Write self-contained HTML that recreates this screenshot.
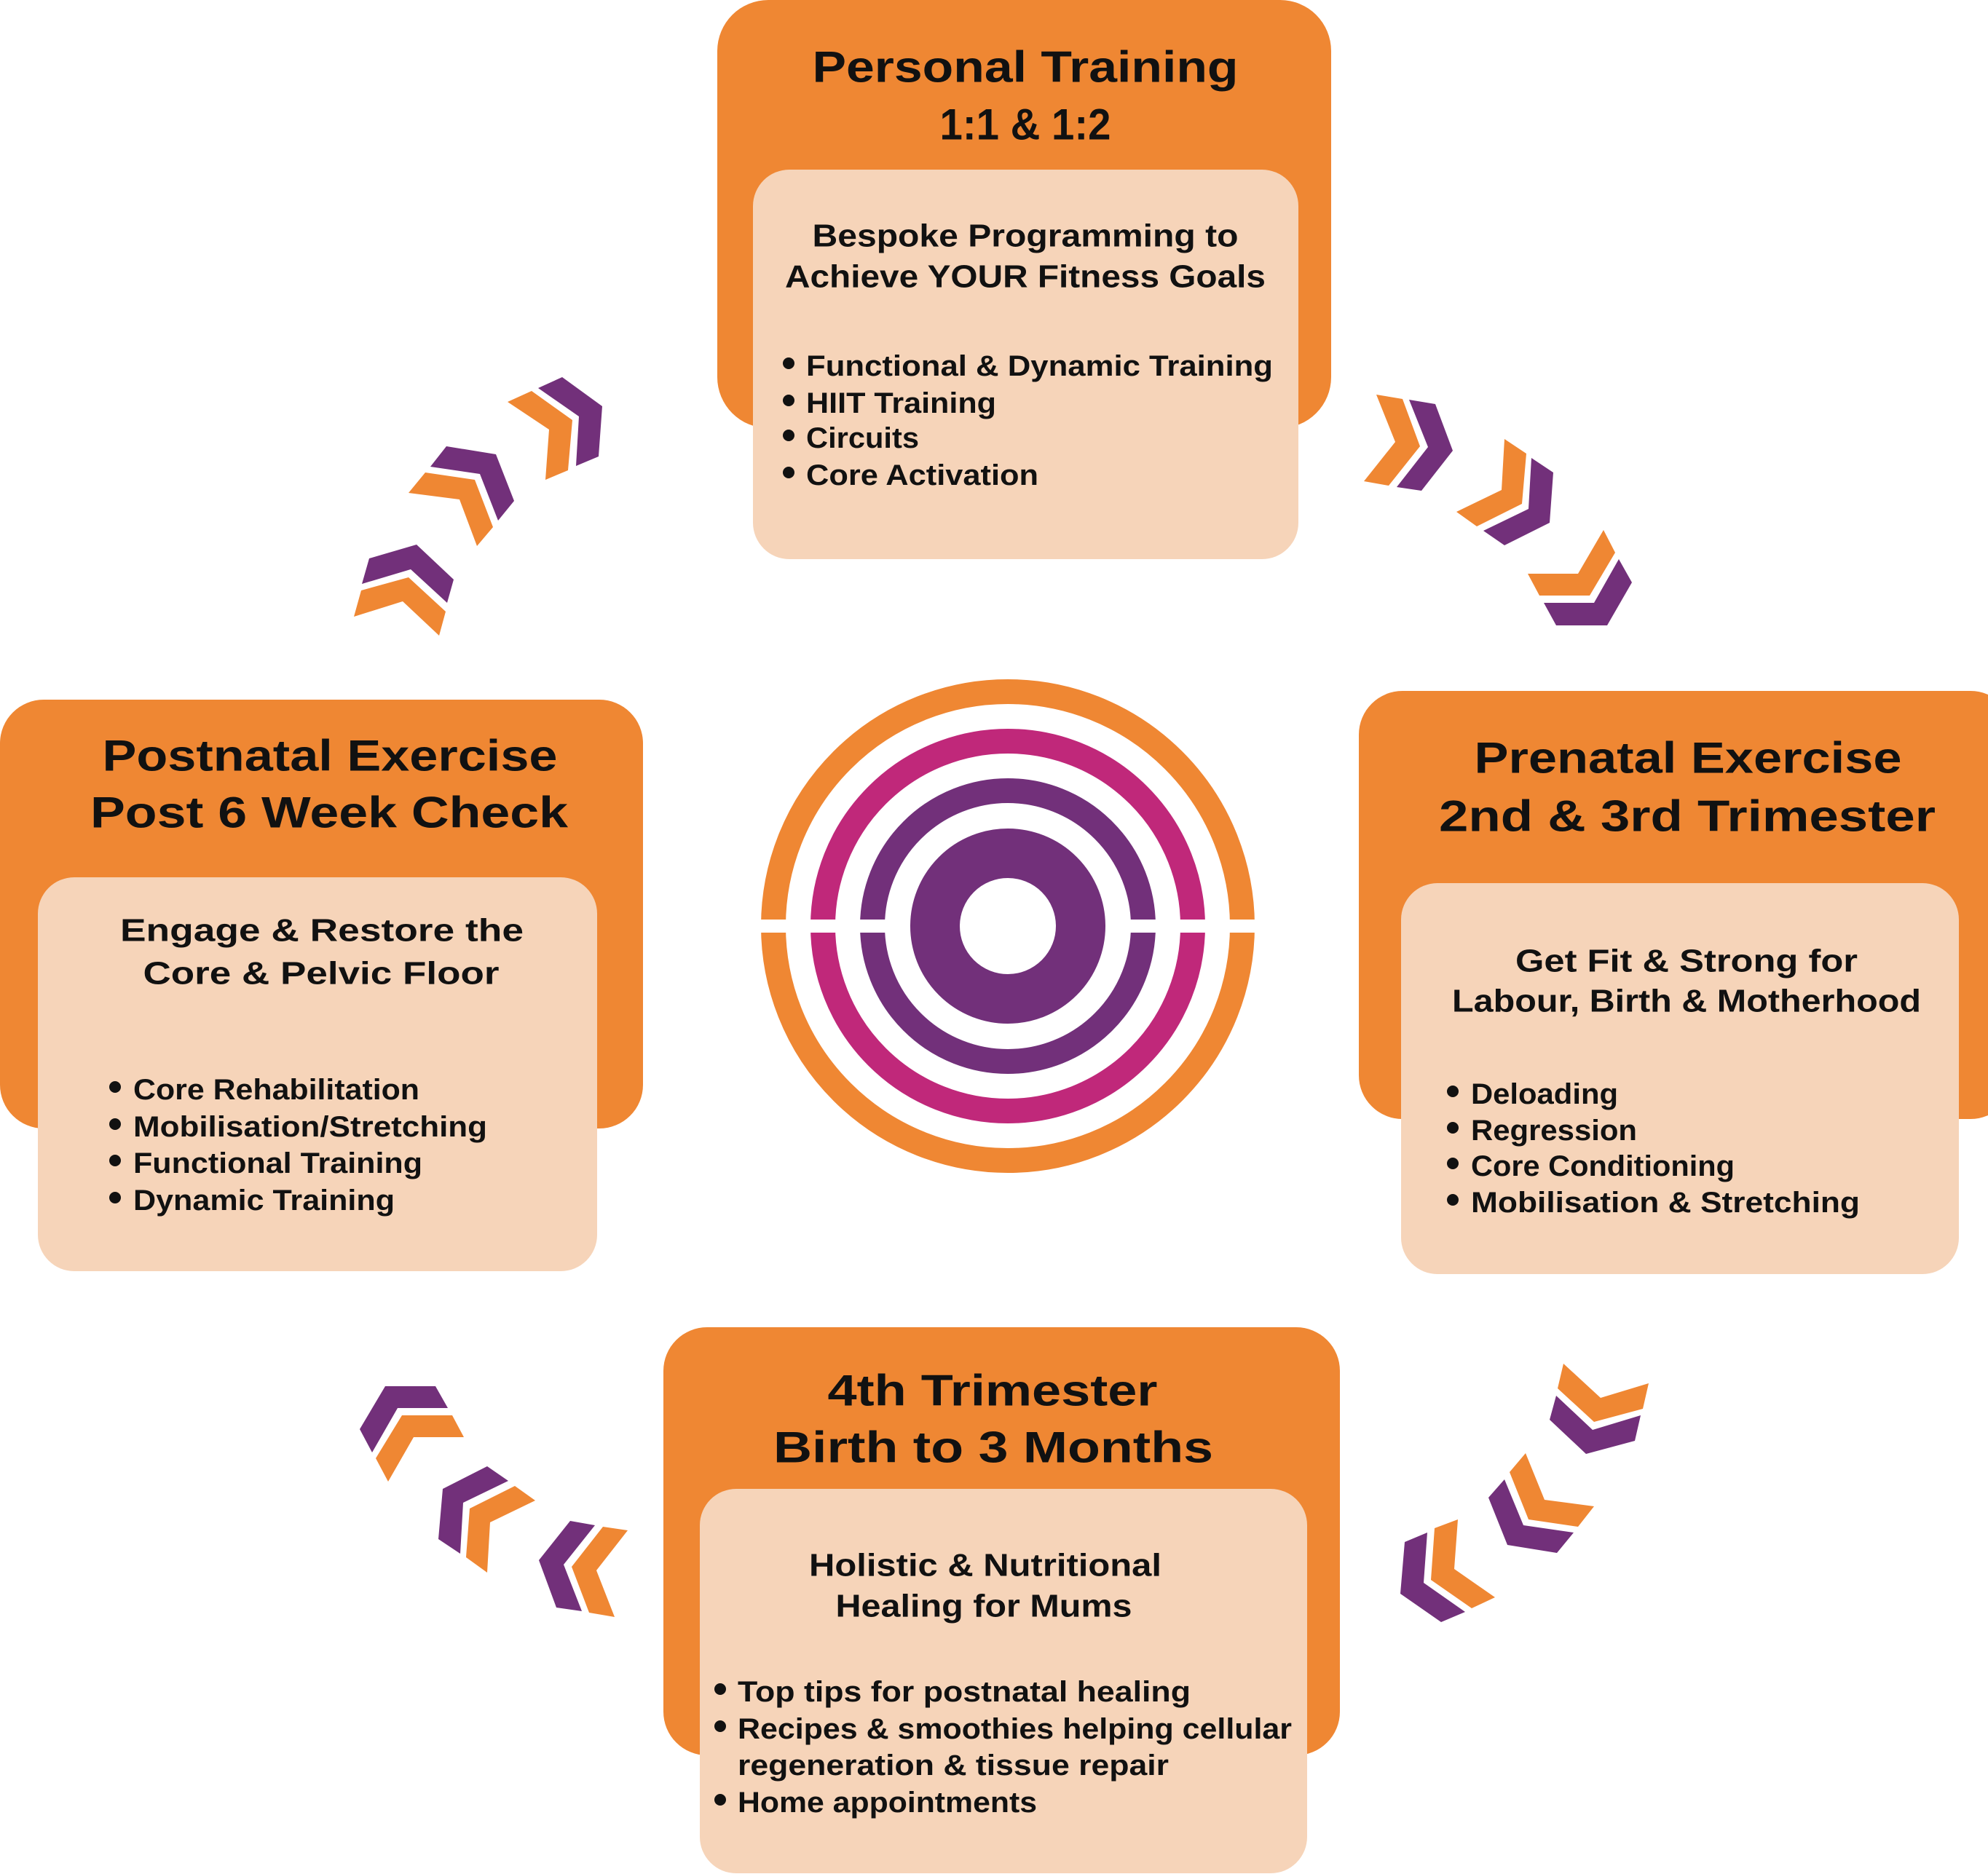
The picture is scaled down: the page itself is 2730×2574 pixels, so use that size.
<!DOCTYPE html>
<html><head><meta charset="utf-8"><style>
html,body{margin:0;padding:0;background:#fff;}
svg{display:block;}
text{font-family:"Liberation Sans",sans-serif;font-weight:bold;fill:#111;}
</style></head><body>
<svg width="2730" height="2574" viewBox="0 0 2730 2574" xmlns="http://www.w3.org/2000/svg">
<rect width="2730" height="2574" fill="#fff"/>
<!-- boxes -->
<rect x="985" y="0" width="843" height="588" rx="70" fill="#EF8733"/>
<rect x="1034" y="233" width="749" height="535" rx="50" fill="#F6D4B9"/>
<rect x="0" y="961" width="883" height="589" rx="60" fill="#EF8733"/>
<rect x="52" y="1205" width="768" height="541" rx="50" fill="#F6D4B9"/>
<rect x="1866" y="949" width="900" height="588" rx="60" fill="#EF8733"/>
<rect x="1924" y="1213" width="766" height="537" rx="50" fill="#F6D4B9"/>
<rect x="911" y="1823" width="929" height="588" rx="60" fill="#EF8733"/>
<rect x="961" y="2045" width="834" height="528" rx="50" fill="#F6D4B9"/>

<!-- target -->
<circle cx="1384" cy="1272" r="322" fill="none" stroke="#EF8733" stroke-width="34"/>
<circle cx="1384" cy="1272" r="254" fill="none" stroke="#C0287A" stroke-width="34"/>
<circle cx="1384" cy="1272" r="186" fill="none" stroke="#72307A" stroke-width="34"/>
<rect x="1030" y="1263" width="710" height="18" fill="#fff"/>
<circle cx="1384" cy="1272" r="100" fill="none" stroke="#72307A" stroke-width="68"/>

<!-- chevrons top-right -->
<g>
<polygon fill="#EF8733" points="1890,542 1926,548 1950,613 1907,667 1873,661 1916,607"/>
<polygon fill="#72307A" points="1935,549 1971,555 1995,619 1952,674 1918,669 1961,614"/>
<polygon fill="#EF8733" points="2066,603 2096,623 2090,692 2028,723 2000,703 2062,673"/>
<polygon fill="#72307A" points="2103,629 2133,649 2128,718 2066,749 2037,729 2099,699"/>
<polygon fill="#EF8733" points="2098,788 2167,788 2202,728 2218,759 2183,818 2114,818"/>
<polygon fill="#72307A" points="2120,828 2189,828 2223,768 2241,800 2207,859 2137,859"/>
</g>
<!-- top-left -->
<g>
<polygon fill="#72307A" points="772,518 827,558 822,627 791,640 795,572 739,533"/>
<polygon fill="#EF8733" points="730,537 786,577 780,646 749,659 754,590 697,552"/>
<polygon fill="#72307A" points="613,613 681,624 706,688 684,715 659,651 591,641"/>
<polygon fill="#EF8733" points="584,649 652,659 677,724 655,750 631,686 561,677"/>
<polygon fill="#72307A" points="507,767 572,748 623,796 614,828 564,782 497,802"/>
<polygon fill="#EF8733" points="496,811 561,793 612,840 603,873 553,826 486,847"/>
</g>
<!-- bottom-right -->
<g>
<polygon fill="#EF8733" points="2147,1873 2198,1920 2264,1900 2256,1935 2189,1953 2139,1907"/>
<polygon fill="#72307A" points="2137,1917 2187,1964 2253,1944 2245,1979 2178,1997 2128,1950"/>
<polygon fill="#EF8733" points="2095,1996 2121,2060 2189,2069 2167,2097 2099,2087 2073,2022"/>
<polygon fill="#72307A" points="2066,2032 2092,2095 2161,2105 2138,2133 2070,2122 2044,2057"/>
<polygon fill="#EF8733" points="2002,2087 1997,2155 2053,2194 2021,2209 1965,2170 1970,2099"/>
<polygon fill="#72307A" points="1960,2105 1955,2174 2012,2214 1979,2228 1923,2189 1929,2118"/>
</g>
<!-- bottom-left -->
<g>
<polygon fill="#72307A" points="529,1904 598,1904 615,1934 546,1934 511,1995 494,1963"/>
<polygon fill="#EF8733" points="552,1944 621,1944 637,1974 568,1974 533,2035 516,2003"/>
<polygon fill="#72307A" points="669,2014 698,2034 636,2064 632,2134 602,2114 608,2045"/>
<polygon fill="#EF8733" points="707,2041 735,2061 673,2091 669,2160 640,2139 645,2072"/>
<polygon fill="#72307A" points="783,2089 817,2095 774,2149 799,2213 764,2208 740,2143"/>
<polygon fill="#EF8733" points="828,2097 862,2102 819,2157 844,2221 809,2215 785,2152"/>
</g>

<!-- top text -->
<g dominant-baseline="central">
<text x="1408" y="92" font-size="60" text-anchor="middle" textLength="585" lengthAdjust="spacingAndGlyphs">Personal Training</text>
<text x="1408" y="171" font-size="60" text-anchor="middle" textLength="235" lengthAdjust="spacingAndGlyphs">1:1 &amp; 1:2</text>
<text x="1408" y="324" font-size="44" text-anchor="middle" textLength="585" lengthAdjust="spacingAndGlyphs">Bespoke Programming to</text>
<text x="1408" y="380" font-size="44" text-anchor="middle" textLength="660" lengthAdjust="spacingAndGlyphs">Achieve YOUR Fitness Goals</text>
<g font-size="40">
<text x="1107" y="503" textLength="641" lengthAdjust="spacingAndGlyphs">Functional &amp; Dynamic Training</text>
<text x="1107" y="554" textLength="261" lengthAdjust="spacingAndGlyphs">HIIT Training</text>
<text x="1107" y="602" textLength="155" lengthAdjust="spacingAndGlyphs">Circuits</text>
<text x="1107" y="653" textLength="319" lengthAdjust="spacingAndGlyphs">Core Activation</text>
</g>
</g>
<g fill="#111">
<circle cx="1083" cy="499" r="8"/><circle cx="1083" cy="550" r="8"/><circle cx="1083" cy="598" r="8"/><circle cx="1083" cy="649" r="8"/>
</g>

<!-- left text -->
<g dominant-baseline="central">
<text x="453" y="1038" font-size="60" text-anchor="middle" textLength="625" lengthAdjust="spacingAndGlyphs">Postnatal Exercise</text>
<text x="452" y="1116" font-size="60" text-anchor="middle" textLength="656" lengthAdjust="spacingAndGlyphs">Post 6 Week Check</text>
<text x="442" y="1278" font-size="44" text-anchor="middle" textLength="554" lengthAdjust="spacingAndGlyphs">Engage &amp; Restore the</text>
<text x="441" y="1337" font-size="44" text-anchor="middle" textLength="489" lengthAdjust="spacingAndGlyphs">Core &amp; Pelvic Floor</text>
<g font-size="40">
<text x="183" y="1497" textLength="393" lengthAdjust="spacingAndGlyphs">Core Rehabilitation</text>
<text x="183" y="1548" textLength="486" lengthAdjust="spacingAndGlyphs">Mobilisation/Stretching</text>
<text x="183" y="1598" textLength="397" lengthAdjust="spacingAndGlyphs">Functional Training</text>
<text x="183" y="1649" textLength="359" lengthAdjust="spacingAndGlyphs">Dynamic Training</text>
</g>
</g>
<g fill="#111">
<circle cx="158" cy="1493" r="8"/><circle cx="158" cy="1544" r="8"/><circle cx="158" cy="1594" r="8"/><circle cx="158" cy="1645" r="8"/>
</g>

<!-- right text -->
<g dominant-baseline="central">
<text x="2318" y="1041" font-size="60" text-anchor="middle" textLength="587" lengthAdjust="spacingAndGlyphs">Prenatal Exercise</text>
<text x="2317" y="1121" font-size="60" text-anchor="middle" textLength="682" lengthAdjust="spacingAndGlyphs">2nd &amp; 3rd Trimester</text>
<text x="2316" y="1320" font-size="44" text-anchor="middle" textLength="470" lengthAdjust="spacingAndGlyphs">Get Fit &amp; Strong for</text>
<text x="2316" y="1375" font-size="44" text-anchor="middle" textLength="644" lengthAdjust="spacingAndGlyphs">Labour, Birth &amp; Motherhood</text>
<g font-size="40">
<text x="2020" y="1503" textLength="202" lengthAdjust="spacingAndGlyphs">Deloading</text>
<text x="2020" y="1553" textLength="228" lengthAdjust="spacingAndGlyphs">Regression</text>
<text x="2020" y="1602" textLength="362" lengthAdjust="spacingAndGlyphs">Core Conditioning</text>
<text x="2020" y="1652" textLength="534" lengthAdjust="spacingAndGlyphs">Mobilisation &amp; Stretching</text>
</g>
</g>
<g fill="#111">
<circle cx="1995" cy="1499" r="8"/><circle cx="1995" cy="1549" r="8"/><circle cx="1995" cy="1598" r="8"/><circle cx="1995" cy="1648" r="8"/>
</g>

<!-- bottom text -->
<g dominant-baseline="central">
<text x="1363" y="1910" font-size="60" text-anchor="middle" textLength="453" lengthAdjust="spacingAndGlyphs">4th Trimester</text>
<text x="1364" y="1988" font-size="60" text-anchor="middle" textLength="604" lengthAdjust="spacingAndGlyphs">Birth to 3 Months</text>
<text x="1353" y="2150" font-size="44" text-anchor="middle" textLength="484" lengthAdjust="spacingAndGlyphs">Holistic &amp; Nutritional</text>
<text x="1351" y="2206" font-size="44" text-anchor="middle" textLength="407" lengthAdjust="spacingAndGlyphs">Healing for Mums</text>
<g font-size="40">
<text x="1013" y="2324" textLength="622" lengthAdjust="spacingAndGlyphs">Top tips for postnatal healing</text>
<text x="1013" y="2375" textLength="761" lengthAdjust="spacingAndGlyphs">Recipes &amp; smoothies helping cellular</text>
<text x="1013" y="2425" textLength="592" lengthAdjust="spacingAndGlyphs">regeneration &amp; tissue repair</text>
<text x="1013" y="2476" textLength="411" lengthAdjust="spacingAndGlyphs">Home appointments</text>
</g>
</g>
<g fill="#111">
<circle cx="989" cy="2320" r="8"/><circle cx="989" cy="2371" r="8"/><circle cx="989" cy="2472" r="8"/>
</g>
</svg>
</body></html>
